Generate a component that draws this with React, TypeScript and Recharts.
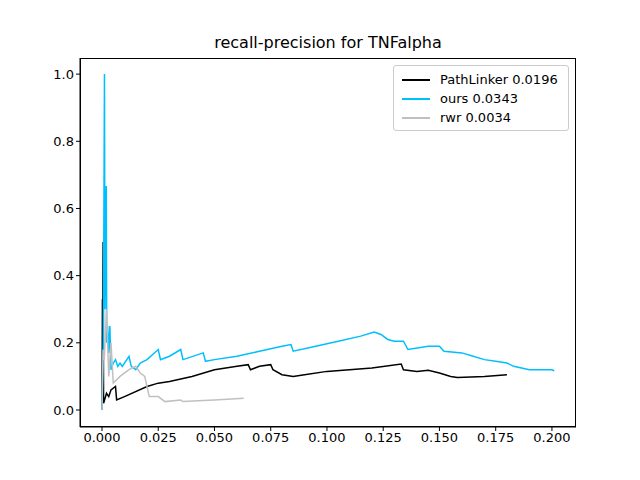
import { LineChart, Line, XAxis, YAxis } from "recharts";

const pathLinker = [
  [0, 0], [0.0002, 0.33], [0.0003, 0.2], [0.0005, 0.5], [0.0007, 0.02], [0.002, 0.05], [0.003, 0.04], [0.004, 0.06],
  [0.006, 0.07], [0.0065, 0.03], [0.01, 0.04], [0.02, 0.07], [0.025, 0.08], [0.03, 0.085], [0.04, 0.1],
  [0.05, 0.12], [0.06, 0.13], [0.065, 0.135], [0.066, 0.12], [0.07, 0.13], [0.075, 0.135], [0.076, 0.12],
  [0.08, 0.105], [0.085, 0.1], [0.09, 0.105], [0.1, 0.115], [0.11, 0.12], [0.12, 0.125], [0.133, 0.137],
  [0.134, 0.12], [0.14, 0.115], [0.145, 0.118], [0.15, 0.11], [0.155, 0.1], [0.158, 0.097], [0.17, 0.1],
  [0.18, 0.105],
];
const ours = [
  [0, 0], [0.0006, 0.2], [0.0011, 1.0], [0.0013, 0.3], [0.0019, 0.667], [0.0021, 0.2], [0.0025, 0.25],
  [0.003, 0.17], [0.0035, 0.25], [0.004, 0.12], [0.005, 0.14], [0.006, 0.15], [0.007, 0.13], [0.008, 0.14],
  [0.009, 0.13], [0.012, 0.16], [0.013, 0.13], [0.015, 0.12], [0.017, 0.14], [0.02, 0.15], [0.025, 0.18],
  [0.026, 0.15], [0.03, 0.16], [0.035, 0.18], [0.036, 0.15], [0.045, 0.17], [0.046, 0.145], [0.05, 0.15],
  [0.06, 0.16], [0.07, 0.175], [0.08, 0.19], [0.084, 0.195], [0.085, 0.175], [0.095, 0.19], [0.105, 0.205],
  [0.115, 0.22], [0.121, 0.232], [0.124, 0.225], [0.127, 0.21], [0.13, 0.205], [0.134, 0.205], [0.136, 0.18],
  [0.145, 0.19], [0.15, 0.19], [0.152, 0.175], [0.16, 0.17], [0.165, 0.16], [0.17, 0.15], [0.175, 0.145],
  [0.18, 0.14], [0.183, 0.13], [0.19, 0.12], [0.2, 0.12], [0.201, 0.117],
];
const rwr = [
  [0, 0], [0.0005, 0.18], [0.001, 0.15], [0.002, 0.3], [0.003, 0.1], [0.004, 0.2], [0.005, 0.08],
  [0.008, 0.1], [0.012, 0.12], [0.015, 0.13], [0.017, 0.11], [0.019, 0.1], [0.02, 0.07], [0.021, 0.04],
  [0.025, 0.04], [0.028, 0.025], [0.035, 0.03], [0.036, 0.025], [0.05, 0.03], [0.063, 0.035],
];
const xTicks = [0, 0.025, 0.05, 0.075, 0.1, 0.125, 0.15, 0.175, 0.2];
const yTicks = [0, 0.2, 0.4, 0.6, 0.8, 1.0];

const series = [
  { name: "PathLinker 0.0196", pts: pathLinker, color: "#000000" },
  { name: "ours 0.0343", pts: ours, color: "#00bfff" },
  { name: "rwr 0.0034", pts: rwr, color: "#c0c0c0" },
];

const font = "DejaVu Sans, sans-serif";

export default function App() {
  return (
    <div style={{ position: "absolute", left: 0, top: 0, width: 640, height: 480, background: "#fff", fontFamily: font }}>
      <LineChart width={640} height={480} margin={{ top: 58, right: 64, bottom: 0, left: 40 }}>
        <XAxis
          type="number"
          dataKey="x"
          domain={[-0.00978, 0.2107]}
          ticks={xTicks}
          tickFormatter={(v) => v.toFixed(3)}
          allowDataOverflow
          height={53}
          stroke="#000"
          tick={{ fill: "#000", fontSize: 13, fontFamily: font }}
          tickSize={4}
        />
        <YAxis
          type="number"
          dataKey="y"
          domain={[-0.0506, 1.048]}
          ticks={yTicks}
          tickFormatter={(v) => v.toFixed(1)}
          allowDataOverflow
          width={40}
          stroke="#000"
          tick={{ fill: "#000", fontSize: 13, fontFamily: font }}
          tickSize={4}
        />
        {series.map((s) => (
          <Line
            key={s.name}
            data={s.pts.map(([x, y]) => ({ x, y }))}
            dataKey="y"
            type="linear"
            stroke={s.color}
            strokeWidth={1.5}
            dot={false}
            isAnimationActive={false}
          />
        ))}
      </LineChart>
      <div style={{ position: "absolute", left: 80, top: 58, width: 496, height: 369, border: "1px solid #000", boxSizing: "border-box", pointerEvents: "none" }} />
      <div style={{ position: "absolute", left: 80, width: 496, top: 33, textAlign: "center", fontSize: 16 }}>
        recall-precision for TNFalpha
      </div>
      <div style={{ position: "absolute", left: 393, top: 65, width: 176, height: 66, border: "1px solid #ccc", borderRadius: 3, boxSizing: "border-box", padding: "4px 8px", fontSize: 13 }}>
        {series.map((s) => (
          <div key={s.name} style={{ display: "flex", alignItems: "center", height: 19 }}>
            <div style={{ width: 28, height: 2, background: s.color, marginRight: 10 }} />
            {s.name}
          </div>
        ))}
      </div>
    </div>
  );
}
